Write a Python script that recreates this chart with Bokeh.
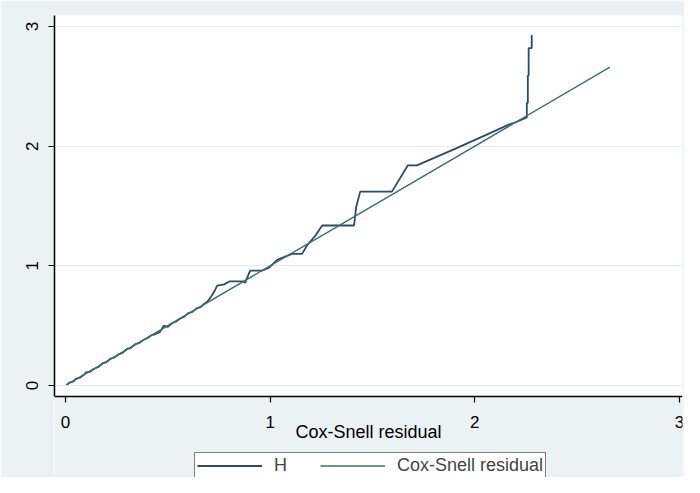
from bokeh.plotting import figure
from bokeh.models import Range1d, FixedTicker, Legend, LegendItem, BoxAnnotation
from bokeh.embed import file_html
from bokeh.resources import INLINE

# Nelson-Aalen cumulative hazard H of the Cox-Snell residuals (sorted by residual)
h_x = [0.005, 0.02, 0.04, 0.05, 0.07, 0.09, 0.10, 0.12, 0.14, 0.16, 0.18, 0.20,
       0.22, 0.24, 0.26, 0.28, 0.30, 0.32, 0.34, 0.36, 0.38, 0.40, 0.42, 0.44,
       0.46, 0.47, 0.48, 0.50, 0.52, 0.54, 0.56, 0.58, 0.60, 0.62, 0.64, 0.66,
       0.68, 0.693, 0.71, 0.727, 0.741, 0.776, 0.80, 0.863, 0.878, 0.902, 0.96,
       0.995, 1.034, 1.07, 1.107, 1.156, 1.18, 1.22, 1.254, 1.41, 1.42, 1.44,
       1.595, 1.673, 1.717, 1.90, 2.05, 2.166, 2.20, 2.254, 2.254, 2.259, 2.259,
       2.263, 2.263, 2.278, 2.278]
h_y = [0.005, 0.025, 0.035, 0.055, 0.065, 0.09, 0.11, 0.115, 0.14, 0.155, 0.185, 0.195,
       0.225, 0.235, 0.26, 0.275, 0.305, 0.315, 0.345, 0.355, 0.38, 0.395, 0.42, 0.43,
       0.445, 0.47, 0.50, 0.49, 0.52, 0.535, 0.56, 0.575, 0.605, 0.615, 0.645, 0.655,
       0.685, 0.70, 0.74, 0.785, 0.835, 0.845, 0.87, 0.87, 0.86, 0.96, 0.96,
       0.985, 1.05, 1.075, 1.10, 1.10, 1.17, 1.25, 1.337, 1.337, 1.49, 1.62,
       1.62, 1.84, 1.84, 1.975, 2.09, 2.18, 2.20, 2.24, 2.36, 2.36, 2.59,
       2.59, 2.82, 2.82, 2.93]

# Cox-Snell residual plotted against itself (45-degree reference line)
cs_x = [0.005, 2.66]
cs_y = [0.005, 2.66]

x_ticks = [0, 1, 2, 3]
y_ticks = [0, 1, 2, 3]
x_title = "Cox-Snell residual"
legend_labels = ["H", "Cox-Snell residual"]

BG = "#EAF2F3"
FONT = "Liberation Sans"
H_COLOR = "#2F4B63"
CS_COLOR = "#3D6E70"

# plot-region limits (data units) and the extra strip below it for titles/legend
X_LO, X_HI = -0.0537, 3.0147
Y_LO, Y_HI = -0.092, 3.092
Y_STRIP = -0.7688

p = figure(width=684, height=477, output_backend="svg", toolbar_location=None,
           x_range=Range1d(X_LO, X_HI), y_range=Range1d(Y_STRIP, Y_HI),
           min_border_left=54, min_border_right=2, min_border_top=15,
           min_border_bottom=0)

p.background_fill_color = "white"
p.border_fill_color = BG
p.outline_line_color = None

# light background below the plot region (area of axis title and legend)
p.add_layout(BoxAnnotation(top=Y_LO, fill_color=BG, fill_alpha=1,
                           line_color=None, level="underlay"))

r1 = p.line(h_x, h_y, line_color=H_COLOR, line_width=1.8)
r2 = p.line(cs_x, cs_y, line_color=CS_COLOR, line_width=1.4)

p.xgrid.visible = False
p.ygrid.grid_line_color = "#E3EBED"
p.ygrid.grid_line_width = 1

for ax in (p.xaxis[0], p.yaxis[0]):
    ax.axis_line_color = "black"
    ax.axis_line_width = 1.5
    ax.major_tick_line_color = "black"
    ax.major_tick_line_width = 1.2
    ax.major_tick_out = 6
    ax.major_tick_in = 0
    ax.minor_tick_line_color = None
    ax.major_label_text_font = FONT
    ax.major_label_text_font_size = "17px"
    ax.major_label_text_color = "black"

p.xaxis.ticker = FixedTicker(ticks=x_ticks)
p.yaxis.ticker = FixedTicker(ticks=y_ticks)
p.xaxis.fixed_location = Y_LO
p.yaxis.bounds = (Y_LO, Y_HI)
p.xaxis.major_label_standoff = 13
p.yaxis.major_label_standoff = 10
p.yaxis.major_label_orientation = "vertical"

p.xaxis.axis_label = x_title
p.xaxis.axis_label_text_font = FONT
p.xaxis.axis_label_text_font_size = "18px"
p.xaxis.axis_label_text_font_style = "normal"
p.xaxis.axis_label_text_color = "black"
p.xaxis.axis_label_standoff = -9

legend = Legend(items=[LegendItem(label=legend_labels[0], renderers=[r1]),
                       LegendItem(label=legend_labels[1], renderers=[r2])],
                orientation="horizontal", location=(140, -2),
                border_line_color="black", border_line_width=1,
                background_fill_color="white", background_fill_alpha=1,
                glyph_width=65, glyph_height=19, label_standoff=12, spacing=26,
                padding=2, margin=0, label_text_font=FONT,
                label_text_font_size="18px", label_height=19)
p.add_layout(legend, "center")

open("out.html", "w").write(file_html(p, INLINE))
